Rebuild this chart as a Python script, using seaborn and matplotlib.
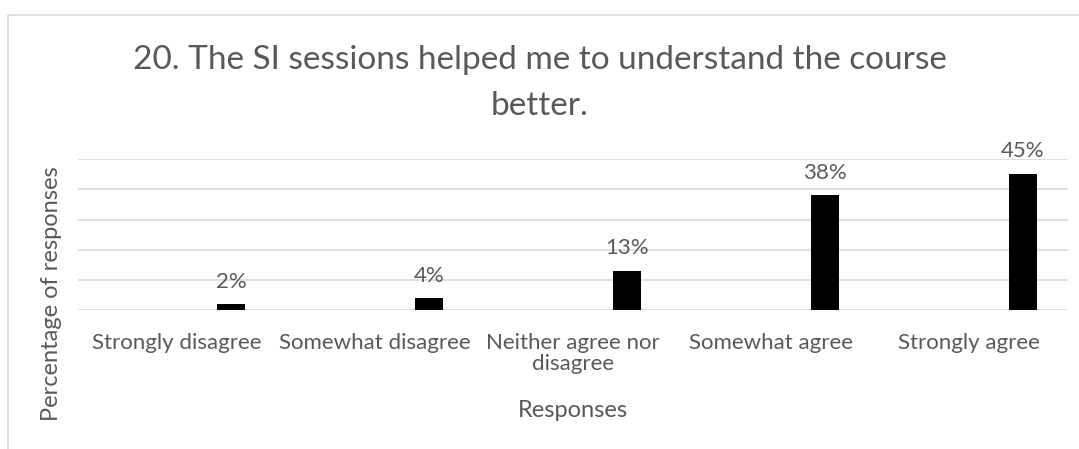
import matplotlib
matplotlib.use("Agg")
import matplotlib.pyplot as plt
from matplotlib.patches import Rectangle
import numpy as np
import pandas as pd
import seaborn as sns

# Survey results for question 20
categories = ["Strongly disagree", "Somewhat disagree", "Neither agree nor\ndisagree",
              "Somewhat agree", "Strongly agree"]
percentages = [2, 4, 13, 38, 45]
y_ticks = [0, 10, 20, 30, 40, 50]

title = "20. The SI sessions helped me to understand the course\nbetter."
x_title = "Responses"
y_title = "Percentage of responses"

sns.set_theme(style="white")
plt.rcParams["font.family"] = ["Lato", "DejaVu Sans"]

TEXT = "#595959"
GRID = "#d9d9d9"

fig = plt.figure(figsize=(10.79, 4.49), dpi=100)
W, H = 1079, 449
ax = fig.add_axes([78 / W, 1 - 310.3 / H, 990 / W, 151.3 / H])

# bars sit to the right of each category centre
bar_offset = 0.273
df = pd.DataFrame({"pos": np.arange(len(categories)) + bar_offset,
                   "pct": percentages})
sns.barplot(data=df, x="pos", y="pct", native_scale=True, width=0.141,
            color="black", saturation=1, edgecolor="none", ax=ax)

ax.set_xlim(-0.5, len(categories) - 0.5)
ax.set_ylim(0, 50)
ax.set_yticks(y_ticks)
ax.set_yticklabels([])
ax.yaxis.grid(True, color=GRID, linewidth=1.2)
ax.set_axisbelow(True)
for s in ["top", "right", "left", "bottom"]:
    ax.spines[s].set_visible(False)

ax.set_xticks(np.arange(len(categories)))
ax.set_xticklabels(categories, fontsize=16, color=TEXT, linespacing=1.1)
ax.tick_params(axis="x", length=0, pad=16)
ax.tick_params(axis="y", length=0)

for xp, v in zip(df["pos"], percentages):
    ax.annotate(f"{v}%", (xp, v), xytext=(0, 12), textcoords="offset points",
                ha="center", va="baseline", fontsize=16, color=TEXT)

ax.set_xlabel(x_title, fontsize=17, color=TEXT, va="center")
ax.xaxis.set_label_coords(0.5, (310.3 - 410) / 151.3)
ax.set_ylabel(y_title, fontsize=17, color=TEXT, ha="center", va="center")
ax.yaxis.set_label_coords((52 - 78) / 990, (310.3 - 294) / 151.3)

# two-line title; baseline anchor refers to the last line
fig.text(0.5, 1 - 115 / H, title, ha="center", va="baseline", fontsize=24,
         color=TEXT, linespacing=1.65)

# chart-area border
fig.add_artist(Rectangle((7.5 / W, -0.1), 1.2, 1.1 - 14.5 / H,
                         transform=fig.transFigure, fill=False,
                         edgecolor=GRID, linewidth=1.1))

fig.savefig("out.png", dpi=100)
